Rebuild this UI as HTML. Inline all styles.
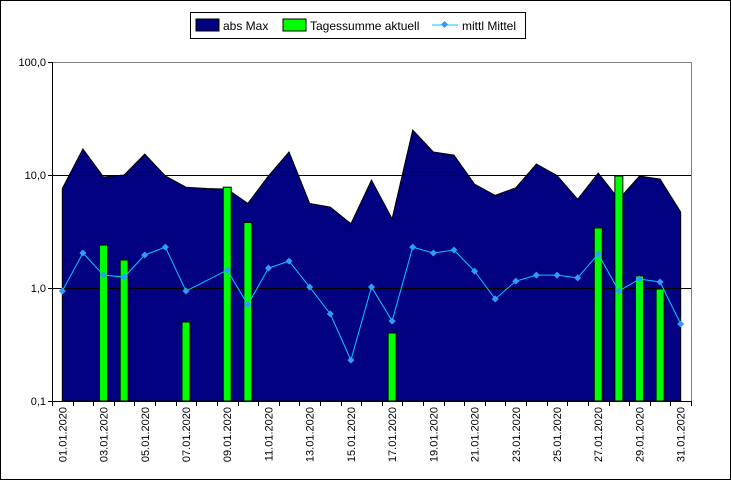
<!DOCTYPE html>
<html><head><meta charset="utf-8"><style>
body{margin:0;background:#fff}
svg{display:block;font-family:"Liberation Sans",sans-serif}
</style></head><body>
<svg id="c" width="731" height="480">
<rect x="0.5" y="0.5" width="730" height="479" fill="#fff" stroke="#000"/>
<g>
<rect x="190.5" y="12.5" width="335" height="26" fill="#fff" stroke="#000"/>
<rect x="196" y="19" width="23" height="12" fill="#000080" stroke="#000"/>
<text x="223" y="30" font-size="12">abs Max</text>
<rect x="283" y="19" width="23" height="12" fill="#00ff00" stroke="#000"/>
<text x="310" y="30" font-size="12">Tagessumme aktuell</text>
<line x1="432" y1="25" x2="458" y2="25" stroke="#00ccff"/>
<rect x="442" y="22" width="5" height="5" fill="#3399ff" transform="rotate(45 444.5 24.5)"/>
<text x="462" y="30" font-size="12">mittl Mittel</text>
</g>
<g id="plot"></g>
</svg>
<script>
const categories=[];for(let d=1;d<=31;d++)categories.push((d<10?'0':'')+d+'.01.2020');
const absMax=[7.6,17,9.6,10,15.3,9.8,7.8,7.6,7.5,5.6,9.8,16,5.6,5.2,3.7,9,4.1,25,16,15,8.3,6.6,7.7,12.5,9.9,6.1,10.4,6.1,9.8,9.2,4.7];
const tagessumme=[null,null,2.4,1.77,null,null,0.5,null,7.8,3.8,null,null,null,null,null,null,0.4,null,null,null,null,null,null,null,null,null,3.4,9.8,1.28,0.98,null];
const mittel=[0.94,2.04,1.3,1.25,1.96,2.3,0.94,null,1.44,0.71,1.5,1.73,1.02,0.59,0.23,1.02,0.51,2.3,2.04,2.17,1.41,0.8,1.15,1.3,1.3,1.23,2.0,0.94,1.2,1.13,0.48];
const yTicks=[100,10,1,0.1];
const yTickLabels=['100,0','10,0','1,0','0,1'];
const L=52,R=691,T=62,B=401;
const n=categories.length,bw=(R-L)/n;
const x=i=>L+bw*(i+0.5);
const y=v=>B-(Math.log10(v)+1)*(B-T)/3;
const g=document.getElementById('plot');
const NS='http://www.w3.org/2000/svg';
function mk(t,a,p){const e=document.createElementNS(NS,t);for(const k in a)e.setAttribute(k,a[k]);(p||g).appendChild(e);return e;}
let r=mk('rect',{x:L+0.5,y:T+0.5,width:R-L,height:B-T,fill:'#fff',stroke:'#808080'});


let d='M'+x(0)+','+B;absMax.forEach((v,i)=>d+=' L'+x(i)+','+y(v));d+=' L'+x(n-1)+','+B+' Z';
let a=mk('path',{d:d,fill:'#000080',stroke:'#000','stroke-width':1});


[10,1].forEach(v=>{let l=mk('line',{x1:L,x2:R,y1:Math.round(y(v))+0.5,y2:Math.round(y(v))+0.5,stroke:'#000'});

});
tagessumme.forEach((v,i)=>{if(v==null)return;let b=mk('rect',{x:x(i)-4,y:y(v),width:8,height:B-y(v),fill:'#00ff00',stroke:'#000'});

});
let pts=[];mittel.forEach((v,i)=>{if(v!=null)pts.push(x(i)+','+y(v));});
let pl=mk('polyline',{points:pts.join(' '),fill:'none',stroke:'#00ccff','stroke-width':1});


mittel.forEach((v,i)=>{if(v==null)return;let m=mk('rect',{x:x(i)-2.5,y:y(v)-2.5,width:5,height:5,fill:'#3399ff',transform:`rotate(45 ${x(i)} ${y(v)})`});

});
let ax=mk('path',{d:`M${L+0.5},${T} V${B+0.5} H${R}`,fill:'none',stroke:'#000'});


yTicks.forEach((v,i)=>{mk('line',{x1:L-4,x2:L,y1:Math.round(y(v))+0.5,y2:Math.round(y(v))+0.5,stroke:'#000'});
let t=mk('text',{x:L-6,y:y(v)+4,'font-size':11,'text-anchor':'end'});t.textContent=yTickLabels[i];

});
for(let i=0;i<=n;i++){const xx=Math.round(L+bw*i)+0.5;mk('line',{x1:xx,x2:xx,y1:B,y2:B+5,stroke:'#000'});}
categories.forEach((c,i)=>{if(i%2)return;let t=mk('text',{x:0,y:0,'font-size':11,'text-anchor':'end',transform:`translate(${x(i)+4},${B+6}) rotate(-90)`});t.textContent=c;

});
</script>
</body></html>
